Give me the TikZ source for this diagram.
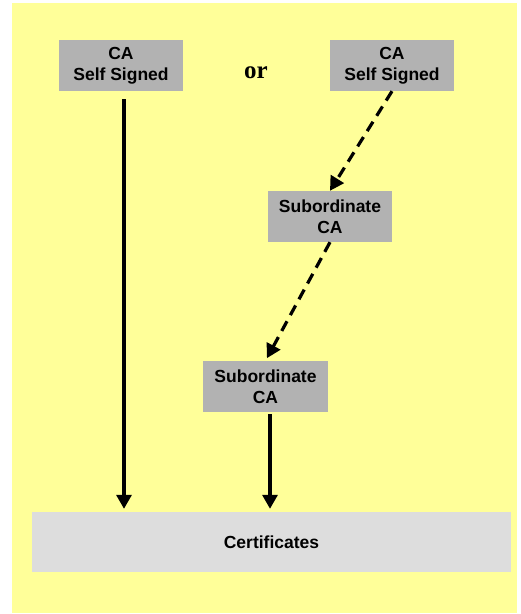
\documentclass[tikz,border=0pt]{standalone}
\usepackage{fontspec}
\setmainfont{Liberation Sans}
\newfontfamily\orfont{Liberation Serif}
\usetikzlibrary{arrows.meta}
\definecolor{bgyellow}{HTML}{FFFF99}
\definecolor{boxgray}{HTML}{B2B2B2}
\definecolor{certgray}{HTML}{DDDDDD}
\begin{document}
\begin{tikzpicture}[x=1pt,y=-1pt,
  cabox/.style={rectangle, fill=boxgray, minimum width=124pt, minimum height=51pt, inner sep=0pt, align=center, font=\fontsize{17.5}{21}\selectfont\bfseries},
  certbox/.style={rectangle, fill=certgray, minimum width=479pt, minimum height=60pt, inner sep=0pt, font=\fontsize{17.5}{21}\selectfont\bfseries},
  link/.style={line width=3.2pt, -{Triangle[width=15pt,length=14pt]}},
  dlink/.style={link, dash pattern=on 11pt off 7pt}]
\useasboundingbox (0,0) rectangle (521,614);
\fill[white] (0,0) rectangle (521,614);
\fill[bgyellow] (12,3) rectangle (517,613);
\node[cabox] (b1) at (121,65.5) {CA\\Self Signed};
\node[cabox] (b2) at (392,65.5) {CA\\Self Signed};
\node[cabox] (b3) at (330,216.5) {Subordinate\\CA};
\node[cabox, minimum width=125pt] (b4) at (265.5,386.5) {Subordinate\\CA};
\node[certbox] (cert) at (271.5,542) {Certificates};
\node[anchor=base, font=\orfont\fontsize{25}{25}\selectfont\bfseries] (or) at (256,78) {or};
\draw[link] ([xshift=3pt,yshift=-8pt]b1.south) -- ([xshift=3pt,yshift=3pt]b1.south |- cert.north);
\draw[link] ([xshift=4.5pt,yshift=-2pt]b4.south) -- ([xshift=4.5pt,yshift=3pt]b4.south |- cert.north);
\draw[dlink] (b2.south) -- (b3.north);
\draw[dlink, shorten >=3pt] (b3.south) -- (b4.north);
\end{tikzpicture}
\end{document}
